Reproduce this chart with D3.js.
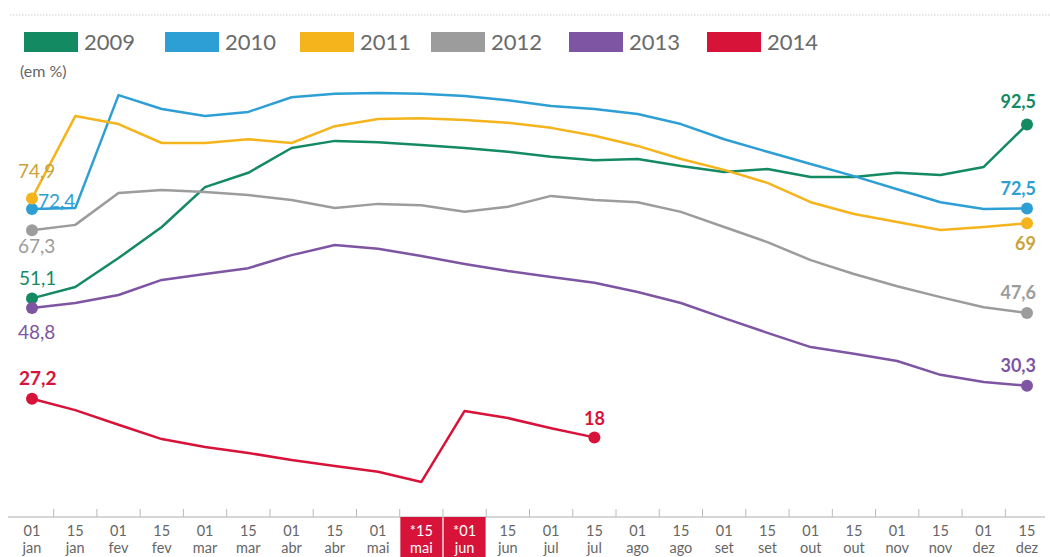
<!DOCTYPE html>
<html><head><meta charset="utf-8">
<script src="https://cdn.jsdelivr.net/npm/d3@7"></script>
<style>body{margin:0;background:#fff;font-family:Lato,"Open Sans",sans-serif}</style>
</head><body><svg id="c" width="1050" height="557"></svg>
<script>
const days = ["01","15","01","15","01","15","01","15","01","*15","*01","15","01","15","01","15","01","15","01","15","01","15","01","15"];
const months = ["jan","jan","fev","fev","mar","mar","abr","abr","mai","mai","jun","jun","jul","jul","ago","ago","set","set","out","out","nov","nov","dez","dez"];
const highlighted = [9,10];
const years = ["2009","2010","2011","2012","2013","2014"];
const colors = ["#148a63","#2e9fd4","#f5b31c","#9c9c9c","#7d55a3","#d8133a"];
const v2009 = [51.1,53.8,60.7,68.1,77.6,81,86.9,88.6,88.3,87.6,86.9,86,84.8,84,84.3,82.6,81.2,81.9,80,80,81,80.5,82.4,92.5];
const v2010 = [72.4,72.6,99.5,96.2,94.5,95.5,99,99.8,100,99.8,99.3,98.3,96.9,96.2,95,92.6,89,86,83.1,80.2,77.1,74,72.4,72.5];
const v2011 = [74.9,94.5,92.6,88.1,88.1,89,88.1,92.1,93.8,94,93.6,92.9,91.7,89.8,87.4,84.3,81.7,78.6,74,71.2,69.3,67.4,68.1,69];
const v2012 = [67.3,68.6,76.2,76.9,76.4,75.7,74.5,72.6,73.6,73.3,71.7,72.9,75.5,74.5,74,71.7,68.1,64.5,60.2,56.9,54,51.4,49,47.6];
const v2013 = [48.8,50,51.9,55.5,56.9,58.3,61.4,63.8,62.9,61.2,59.3,57.6,56.2,54.8,52.6,50,46.4,42.9,39.5,37.9,36.2,32.9,31.2,30.3];
const v2014 = [27.2,24.5,21,17.6,15.7,14.3,12.6,11.2,9.8,7.4,24.3,22.6,20.2,18];
const series = [v2009,v2010,v2011,v2012,v2013,v2014];

const svg = d3.select("#c");
const x = d3.scalePoint().domain(d3.range(days.length)).range([32,1027]);
const y = d3.scaleLinear().domain([0,100]).range([513,93]);

// top dotted rule
svg.append("line").attr("x1",10).attr("x2",1050).attr("y1",15).attr("y2",15)
  .attr("stroke","#cfcfcf").attr("stroke-dasharray","1.5,1.5").attr("stroke-width",1);

// legend
const legX = [24,165,300,431,569,707];
years.forEach((yr,i)=>{
  svg.append("rect").attr("x",legX[i]).attr("y",32).attr("width",54).attr("height",20).attr("fill",colors[i]);
  svg.append("text").attr("x",legX[i]+60).attr("y",50).attr("font-size",22).attr("fill","#6a6a6a").text(yr);
});
svg.append("text").attr("x",20).attr("y",77).attr("font-size",16).attr("fill","#666").text("(em %)");

// axis
const axisY = 517;
svg.append("line").attr("x1",8).attr("x2",1045).attr("y1",axisY).attr("y2",axisY).attr("stroke","#c8c8c8").attr("stroke-width",1.5);
const bw = x.step();
d3.range(days.length-1).forEach(i=>{
  const tx = x(i)+bw/2;
  svg.append("line").attr("x1",tx).attr("x2",tx).attr("y1",axisY-8).attr("y2",axisY).attr("stroke","#bbb").attr("stroke-width",1);
});
highlighted.forEach(i=>{
  svg.append("rect").attr("x",x(i)-21).attr("y",axisY).attr("width",42).attr("height",42).attr("fill","#d8133a");
});
days.forEach((d,i)=>{
  const hl = highlighted.includes(i);
  svg.append("text").attr("x",x(i)).attr("y",536).attr("text-anchor","middle").attr("font-size",14.5)
    .attr("fill",hl?"#fff":"#666").text(d);
  svg.append("text").attr("x",x(i)).attr("y",553).attr("text-anchor","middle").attr("font-size",14.5)
    .attr("fill",hl?"#fff":"#666").text(months[i]);
});

// lines
const line = d3.line().x((d,i)=>x(i)).y(d=>y(d));
series.forEach((s,k)=>{
  svg.append("path").datum(s).attr("d",line).attr("fill","none").attr("stroke",colors[k]).attr("stroke-width",2.5).attr("stroke-linejoin","round");
});
series.forEach((s,k)=>{
  svg.append("circle").attr("cx",x(0)).attr("cy",y(s[0])).attr("r",6).attr("fill",colors[k]);
  svg.append("circle").attr("cx",x(s.length-1)).attr("cy",y(s[s.length-1])).attr("r",6).attr("fill",colors[k]);
});

const fmt = v => String(v).replace(".",",");
// start labels: [series index, dx, dy, bold]
const startLab = [[0,-13,-13,false],[1,6,-1,false],[2,-14,-20,false],[3,-14,23,false],[4,-14,31,false],[5,-13,-14,true]];
const labColors = ["#148a63","#2e9fd4","#c9a43a","#9c9c9c","#7d55a3","#d8133a"];
startLab.forEach(([k,dx,dy,b])=>{
  svg.append("text").attr("x",x(0)+dx).attr("y",y(series[k][0])+dy).attr("font-size",19)
    .attr("font-weight",b?"bold":"normal").attr("fill",labColors[k]).text(fmt(series[k][0]));
});
// end labels
const endLab = [[0,-17],[1,-14],[2,27],[3,-14],[4,-14],[5,-12]];
endLab.forEach(([k,dy])=>{
  const s = series[k], n = s.length-1;
  const isLast = n === days.length-1;
  svg.append("text").attr("x",isLast?1036:x(n)).attr("y",y(s[n])+dy).attr("text-anchor",isLast?"end":"middle")
    .attr("font-size",18).attr("font-weight","bold").attr("fill",labColors[k]).text(fmt(s[n]));
});
</script></body></html>
